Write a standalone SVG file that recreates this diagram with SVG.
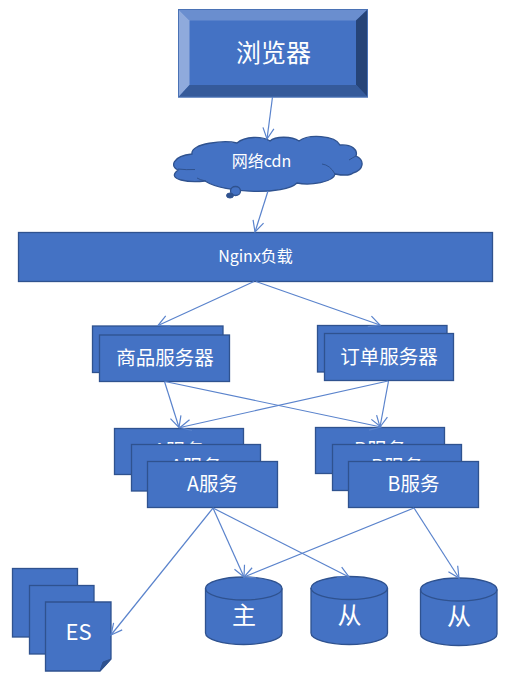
<svg xmlns="http://www.w3.org/2000/svg" width="525" height="687" viewBox="0 0 525 687">
<style>
text{font-family:"Noto Sans CJK SC","Noto Sans",sans-serif;fill:#fff;text-anchor:middle;dominant-baseline:central}
.b{fill:#4472c4;stroke:#2f528f;stroke-width:1.3}
.t{font-size:19.5px}
.c{fill:none;stroke:#5a83cc;stroke-width:1.2;marker-end:url(#a)}
</style>
<defs>
<marker id="a" markerUnits="userSpaceOnUse" markerWidth="16" markerHeight="16" refX="12" refY="8" orient="auto"><path d="M1 2.5L12 8L1 13.5" fill="none" stroke="#5a83cc" stroke-width="1.2"/></marker>
</defs>
<rect width="525" height="687" fill="#fff"/>
<g id="browser">
<rect x="178.500" y="9.500" width="189" height="87.500" fill="#4472c4" stroke="#4a72b5"/>
<path d="M178.500 9.500H367.500L356 20.500H189.500Z" fill="#6a8ecf"/>
<path d="M178.500 9.500L189.500 20.500V85L178.500 97Z" fill="#8faadc"/>
<path d="M367.500 9.500V97L356 85V20.500Z" fill="#264478"/>
<path d="M178.500 97L189.500 85H356L367.500 97Z" fill="#355a9a"/>
<rect x="178.500" y="9.500" width="189" height="87.500" fill="none" stroke="#4a72b5"/>
<text x="273.500" y="50.500" font-size="25">浏览器</text>
</g>
<g id="cdn">
<path class="b" d="M192 154C190 143 225 140 237 143C245 136 262 136 270 141C275 136 292 136 299 141C308 134 335 135 340 145C352 144 358 150 356 156C365 160 364 170 353 173C350 176 340 175 335 174C334 182 310 186 297 183C285 195 225 194 205 181C190 183 165 180 178 170C170 167 172 156 192 154Z"/>
<path d="M178 169Q186 170 195 169.500M206 181Q200 180 197 178M322 164Q330 165 335 174M349 160Q352 158 356 156" fill="none" stroke="#2f528f"/>
<ellipse cx="235.500" cy="191" rx="5" ry="4.500" class="b"/>
<ellipse cx="230" cy="195.500" rx="3.500" ry="2.500" fill="#2f528f" stroke="#2f528f"/>
<text x="261.500" y="160" font-size="16">网络cdn</text>
</g>
<g id="nginx">
<rect class="b" x="18.500" y="232.500" width="474" height="49"/>
<text x="255.500" y="255" font-size="16">Nginx负载</text>
</g>
<g id="goods">
<rect class="b" x="92.500" y="326" width="130.500" height="46.500"/>
<rect class="b" x="99.500" y="335" width="130" height="46.500"/>
<text class="t" x="165" y="356.500">商品服务器</text>
</g>
<g id="order">
<rect class="b" x="317.500" y="325.500" width="129.500" height="46.500"/>
<rect class="b" x="324.500" y="333.500" width="129" height="47"/>
<text class="t" x="389" y="355">订单服务器</text>
</g>
<g id="serviceA">
<rect class="b" x="114.500" y="428.500" width="129" height="46"/>
<text class="t" x="179" y="449">A服务</text>
<rect class="b" x="131.500" y="444.500" width="129" height="46.500"/>
<text class="t" x="196" y="465">A服务</text>
<rect class="b" x="147.500" y="461.500" width="130" height="46"/>
<text class="t" x="212.500" y="482">A服务</text>
</g>
<g id="serviceB">
<rect class="b" x="315.500" y="427.500" width="129" height="46"/>
<text class="t" x="380" y="448">B服务</text>
<rect class="b" x="332.500" y="444.500" width="129" height="46"/>
<text class="t" x="397" y="465">B服务</text>
<rect class="b" x="348.500" y="461.500" width="130" height="46"/>
<text class="t" x="413.500" y="482">B服务</text>
</g>
<g id="es">
<rect class="b" x="12.500" y="568.500" width="65" height="68.500"/>
<rect class="b" x="29.500" y="585.500" width="64.500" height="68.500"/>
<path class="b" d="M45.500 602H111V659L100 671H45.500Z"/>
<path d="M111 659L100 671L103 662Z" fill="#2f528f" stroke="#2f528f"/>
<text x="78.500" y="629.500" font-size="22">ES</text>
</g>
<g id="dbMaster">
<path class="b" d="M205.500 588.500A38.250 11.500 0 0 1 282 588.500V633A38.250 11.500 0 0 1 205.500 633Z"/>
<path d="M205.500 588.500A38.250 11.500 0 0 0 282 588.500" fill="none" stroke="#2f528f" stroke-width="1.300"/>
<text x="244" y="613.500" font-size="24">主</text>
</g>
<g id="dbSlave1">
<path class="b" d="M311 588A38.250 11.500 0 0 1 387.500 588V633A38.250 11.500 0 0 1 311 633Z"/>
<path d="M311 588A38.250 11.500 0 0 0 387.500 588" fill="none" stroke="#2f528f" stroke-width="1.300"/>
<text x="349.500" y="613.500" font-size="24">从</text>
</g>
<g id="dbSlave2">
<path class="b" d="M420.500 589.500A38.250 11.500 0 0 1 497 589.500V634A38.250 11.500 0 0 1 420.500 634Z"/>
<path d="M420.500 589.500A38.250 11.500 0 0 0 497 589.500" fill="none" stroke="#2f528f" stroke-width="1.300"/>
<text x="459" y="614.500" font-size="24">从</text>
</g>
<g id="connectors">
<path class="c" d="M272.500 97L267 139"/>
<path class="c" d="M268 191L255 232"/>
<path class="c" d="M254 281.500L158 325.500"/>
<path class="c" d="M256 281.500L380 325"/>
<path class="c" d="M164.500 381.500L179 427.500"/>
<path class="c" d="M165 381.500L381 427"/>
<path class="c" d="M388 381L180 427.500"/>
<path class="c" d="M388.500 381L380 427"/>
<path class="c" d="M213 508L111 635"/>
<path class="c" d="M213 508L244 577"/>
<path class="c" d="M213 508L349 577"/>
<path class="c" d="M414 508L244 577"/>
<path class="c" d="M414 508L459 578"/>
</g>
</svg>
